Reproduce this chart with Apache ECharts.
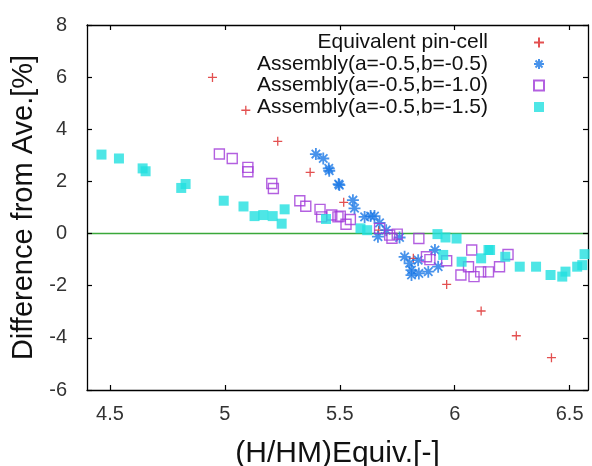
<!DOCTYPE html>
<html><head><meta charset="utf-8">
<script src="https://cdn.jsdelivr.net/npm/echarts@6/dist/echarts.min.js"></script>
<style>html,body{margin:0;padding:0;background:#fff}#c{width:592px;height:466px}</style>
</head><body><div id="c"></div>
<script>
const seriesNames = ['Equivalent pin-cell','Assembly(a=-0.5,b=-0.5)','Assembly(a=-0.5,b=-1.0)','Assembly(a=-0.5,b=-1.5)'];
const xTicks = [4.5, 5, 5.5, 6, 6.5];
const yTicks = [-6, -4, -2, 0, 2, 4, 6, 8];
const pinCell = [[4.946,5.99],[5.091,4.73],[5.23,3.54],[5.371,2.35],[5.517,1.20],[5.669,0.13],[5.82,-0.95],[5.965,-1.95],[6.115,-2.97],[6.268,-3.92],[6.421,-4.76]];
const asmB05 = [[5.396,3.05],[5.428,2.88],[5.452,2.50],[5.454,2.41],[5.495,1.90],[5.498,1.86],[5.557,1.28],[5.564,0.97],[5.608,0.64],[5.634,0.67],[5.651,0.67],[5.673,0.41],[5.666,-0.12],[5.702,0.13],[5.76,-0.15],[5.782,-0.89],[5.804,-1.14],[5.812,-1.40],[5.812,-1.59],[5.844,-1.53],[5.885,-1.46],[5.914,-0.63],[5.928,-1.27],[5.841,-1.02]];
const asmB10 = [[4.976,3.05],[5.032,2.88],[5.10,2.54],[5.10,2.37],[5.204,1.92],[5.211,1.73],[5.326,1.26],[5.352,1.05],[5.414,0.93],[5.421,0.64],[5.465,0.71],[5.492,0.64],[5.502,0.67],[5.527,0.36],[5.546,0.54],[5.673,0.20],[5.717,-0.06],[5.750,-0.02],[5.727,-0.18],[5.844,-0.19],[5.877,-0.89],[5.892,-1.00],[5.965,-1.04],[6.027,-1.59],[6.06,-1.27],[6.074,-0.63],[6.084,-1.65],[6.113,-1.47],[6.147,-1.47],[6.195,-1.27],[6.232,-0.80]];
const asmB15 = [[4.463,3.03],[4.539,2.88],[4.642,2.50],[4.655,2.39],[4.81,1.75],[4.829,1.90],[4.995,1.26],[5.081,1.04],[5.129,0.67],[5.167,0.71],[5.208,0.67],[5.247,0.38],[5.26,0.93],[5.44,0.56],[5.59,0.20],[5.619,0.13],[5.925,-0.02],[5.96,-0.15],[6.008,-0.19],[5.95,-0.82],[6.03,-1.08],[6.115,-0.95],[6.147,-0.63],[6.154,-0.63],[6.22,-0.89],[6.283,-1.27],[6.354,-1.27],[6.417,-1.59],[6.468,-1.65],[6.482,-1.46],[6.533,-1.27],[6.555,-1.21],[6.565,-0.79]];

const FONT = 'Liberation Sans, Arial, sans-serif';
const chart = echarts.init(document.getElementById('c'), null, {renderer:'canvas'});
const axisCommon = {
  axisLine:{show:true, onZero:false, lineStyle:{color:'#000', width:1.3}},
  axisTick:{show:true, inside:true, length:5, lineStyle:{color:'#000', width:1.2}},
  splitLine:{show:false}
};
chart.setOption({
  animation:false,
  backgroundColor:'#fff',
  grid:{left:87, right:4, top:25, bottom:76, containLabel:false, outerBoundsMode:'none'},
  legend:{
    orient:'vertical', align:'right', right:42, top:27, itemWidth:10, itemHeight:10, itemGap:0.5,
    textStyle:{fontFamily:FONT, fontSize:21, color:'#111', lineHeight:21, padding:[0,41,0,0]},
    data:seriesNames
  },
  xAxis:[
    Object.assign({type:'value', min:4.4, max:6.58, interval:0.5,
      axisLabel:{fontFamily:FONT, fontSize:20, color:'#333', margin:14,
        customValues:xTicks, formatter:v=>String(v)},
      axisTick:{show:true, inside:true, length:5, customValues:xTicks, lineStyle:{color:'#000', width:1.2}},
      name:'(H/HM)Equiv.[-]', nameLocation:'middle', nameGap:49,
      nameTextStyle:{fontFamily:FONT, fontSize:30, color:'#111'}}, {
      axisLine:axisCommon.axisLine, splitLine:{show:false}}),
    {type:'value', position:'top', min:4.4, max:6.58, axisLabel:{show:false},
      axisLine:axisCommon.axisLine, splitLine:{show:false},
      axisTick:{show:true, inside:true, length:5, customValues:xTicks, lineStyle:{color:'#000', width:1.2}}}
  ],
  yAxis:[
    Object.assign({type:'value', min:-6, max:8, interval:2,
      axisLabel:{fontFamily:FONT, fontSize:20, color:'#333', margin:20, formatter:v=>String(v)},
      name:'Difference from Ave.[%]', nameLocation:'middle', nameGap:37,
      nameTextStyle:{fontFamily:FONT, fontSize:29, color:'#111'}}, axisCommon),
    Object.assign({type:'value', position:'right', min:-6, max:8, interval:2, axisLabel:{show:false}}, axisCommon)
  ],
  series:[
    {name:seriesNames[0], type:'scatter', data:pinCell, symbol:'path://M0,5L10,5M5,0L5,10', symbolSize:9,
      itemStyle:{color:'rgba(0,0,0,0)', borderColor:'#dc2424', borderWidth:1.3},
      markLine:{silent:true, symbol:'none', z:0, label:{show:false},
        lineStyle:{color:'#3aa83a', width:1.3, type:'solid'}, data:[{yAxis:0}]}},
    {name:seriesNames[1], type:'scatter', data:asmB05, symbol:'path://M5,0L5,10M0,5L10,5M1.5,1.5L8.5,8.5M8.5,1.5L1.5,8.5', symbolSize:12,
      itemStyle:{color:'rgba(0,0,0,0)', borderColor:'#1a78e6', borderWidth:1.8}},
    {name:seriesNames[2], type:'scatter', data:asmB10, symbol:'rect', symbolSize:10,
      itemStyle:{color:'rgba(0,0,0,0)', borderColor:'#a038d8', borderWidth:1.4}},
    {name:seriesNames[3], type:'scatter', data:asmB15, symbol:'rect', symbolSize:10,
      itemStyle:{color:'#22e0e0'}}
  ]
});
</script></body></html>
